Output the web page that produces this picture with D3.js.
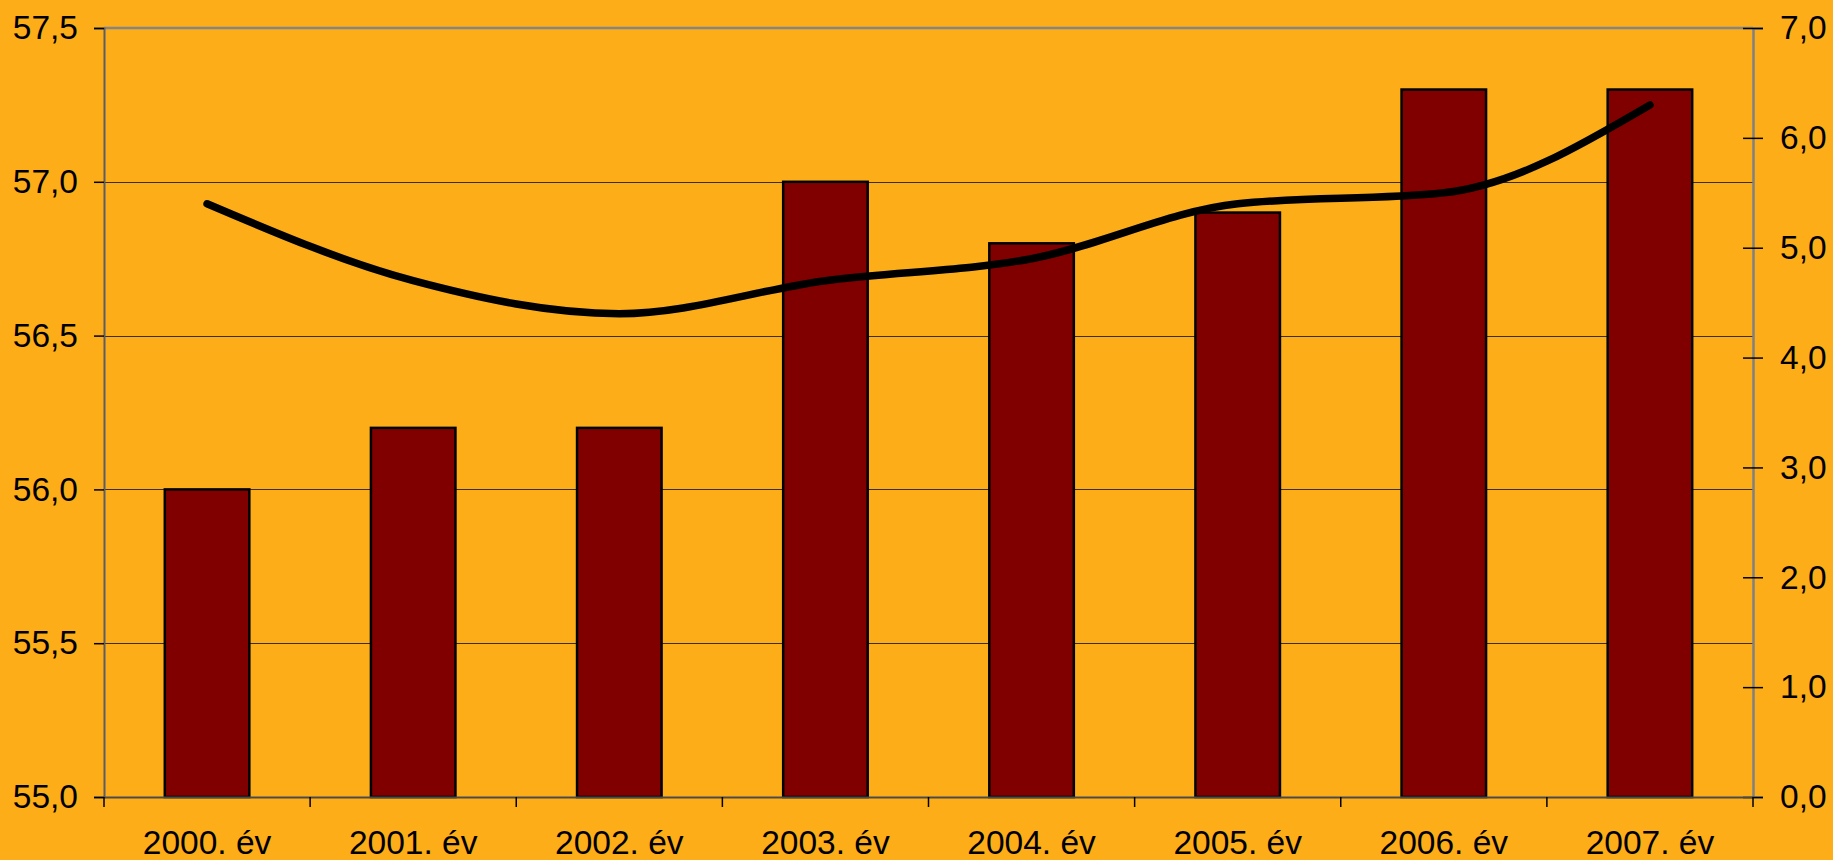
<!DOCTYPE html>
<head>
  <meta charset="utf-8">
  <script src="https://d3js.org/d3.v7.min.js"></script>
  <style>
    body { margin:0; background:#FCAD18; }
    svg { display:block; }
    .lbl text { font-family:"Liberation Sans", Arial, sans-serif; font-size:33.5px; fill:#000; }
    .grid line { stroke:#3a3020; stroke-width:1.2; }
  </style>
</head>

<body>
  <script>
  // ---------- data ----------
    var years = ["2000. év", "2001. év", "2002. év", "2003. év", "2004. év", "2005. év", "2006. év", "2007. év"];
    var barValues = [56.0, 56.2, 56.2, 57.0, 56.8, 56.9, 57.3, 57.3];
    var lineValues = [5.4, 4.7, 4.4, 4.7, 4.9, 5.4, 5.5, 6.3];
    var leftTicks = [55.0, 55.5, 56.0, 56.5, 57.0, 57.5];
    var rightTicks = [0, 1, 2, 3, 4, 5, 6, 7];

    var W = 1833, H = 860;
    var plot = {left: 104, right: 1753, top: 28, bottom: 797};

    var svg = d3.select("body").append("svg")
      .attr("width", W)
      .attr("height", H);

    var fmt = d3.formatLocale({decimal: ",", thousands: " ", grouping: [3], currency: ["", ""]}).format(".1f");

  // ---------- scales ----------
    var x = d3.scaleBand()
      .domain(years)
      .range([plot.left, plot.right])
      .paddingInner(0.59)
      .paddingOuter(0.295);

    var yL = d3.scaleLinear().domain([55, 57.5]).range([plot.bottom, plot.top]);
    var yR = d3.scaleLinear().domain([0, 7]).range([plot.bottom, plot.top]);

  // ---------- gridlines ----------
    svg.append("g").attr("class", "grid")
      .selectAll("line")
      .data(leftTicks.slice(1, -1))
      .join("line")
      .attr("x1", plot.left).attr("x2", plot.right)
      .attr("y1", d => Math.round(yL(d)) + 0.5)
      .attr("y2", d => Math.round(yL(d)) + 0.5);

    // top border of plot area
    svg.append("line")
      .attr("x1", plot.left).attr("x2", plot.right)
      .attr("y1", plot.top).attr("y2", plot.top)
      .attr("stroke", "#858585").attr("stroke-width", 2.5);

  // ---------- bars ----------
    svg.append("g")
      .selectAll("rect")
      .data(barValues)
      .join("rect")
      .attr("x", (d, i) => x(years[i]))
      .attr("width", x.bandwidth())
      .attr("y", d => yL(d))
      .attr("height", d => plot.bottom - yL(d))
      .attr("fill", "#800000")
      .attr("stroke", "#000")
      .attr("stroke-width", 2.5);

  // ---------- line ----------
    var line = d3.line()
      .x((d, i) => x(years[i]) + x.bandwidth() / 2)
      .y(d => yR(d))
      .curve(d3.curveMonotoneX);

    svg.append("path")
      .datum(lineValues)
      .attr("d", line)
      .attr("fill", "none")
      .attr("stroke", "#000")
      .attr("stroke-width", 7.5)
      .attr("stroke-linecap", "round")
      .attr("stroke-linejoin", "round");

  // ---------- axes ----------
    var leftAxis = svg.append("g")
      .attr("class", "lbl")
      .attr("transform", "translate(" + plot.left + ",0)")
      .call(d3.axisLeft(yL).tickValues(leftTicks).tickFormat(fmt).tickSize(10).tickPadding(16));
    leftAxis.select(".domain").attr("stroke", "#5a5f66").attr("stroke-width", 2);
    leftAxis.selectAll(".tick line").attr("stroke", "#000").attr("stroke-width", 1.5);

    var rightAxis = svg.append("g")
      .attr("class", "lbl")
      .attr("transform", "translate(" + plot.right + ",0)")
      .call(d3.axisRight(yR).tickValues(rightTicks).tickFormat(fmt).tickSize(10).tickPadding(17));
    rightAxis.select(".domain").attr("stroke", "#808080").attr("stroke-width", 2.5);
    rightAxis.selectAll(".tick line").attr("x1", -10).attr("stroke", "#000").attr("stroke-width", 1.5);

    var bottomAxis = svg.append("g")
      .attr("class", "lbl")
      .attr("transform", "translate(0," + plot.bottom + ")")
      .call(d3.axisBottom(x).tickSize(0).tickPadding(33));
    bottomAxis.select(".domain").attr("stroke", "#4a4a4a").attr("stroke-width", 2);

    // category boundary ticks
    bottomAxis.append("g")
      .selectAll("line")
      .data(d3.range(years.length + 1))
      .join("line")
      .attr("x1", i => plot.left + i * x.step())
      .attr("x2", i => plot.left + i * x.step())
      .attr("y1", 0).attr("y2", 10)
      .attr("stroke", "#000").attr("stroke-width", 1.5);
  </script>
</body>
